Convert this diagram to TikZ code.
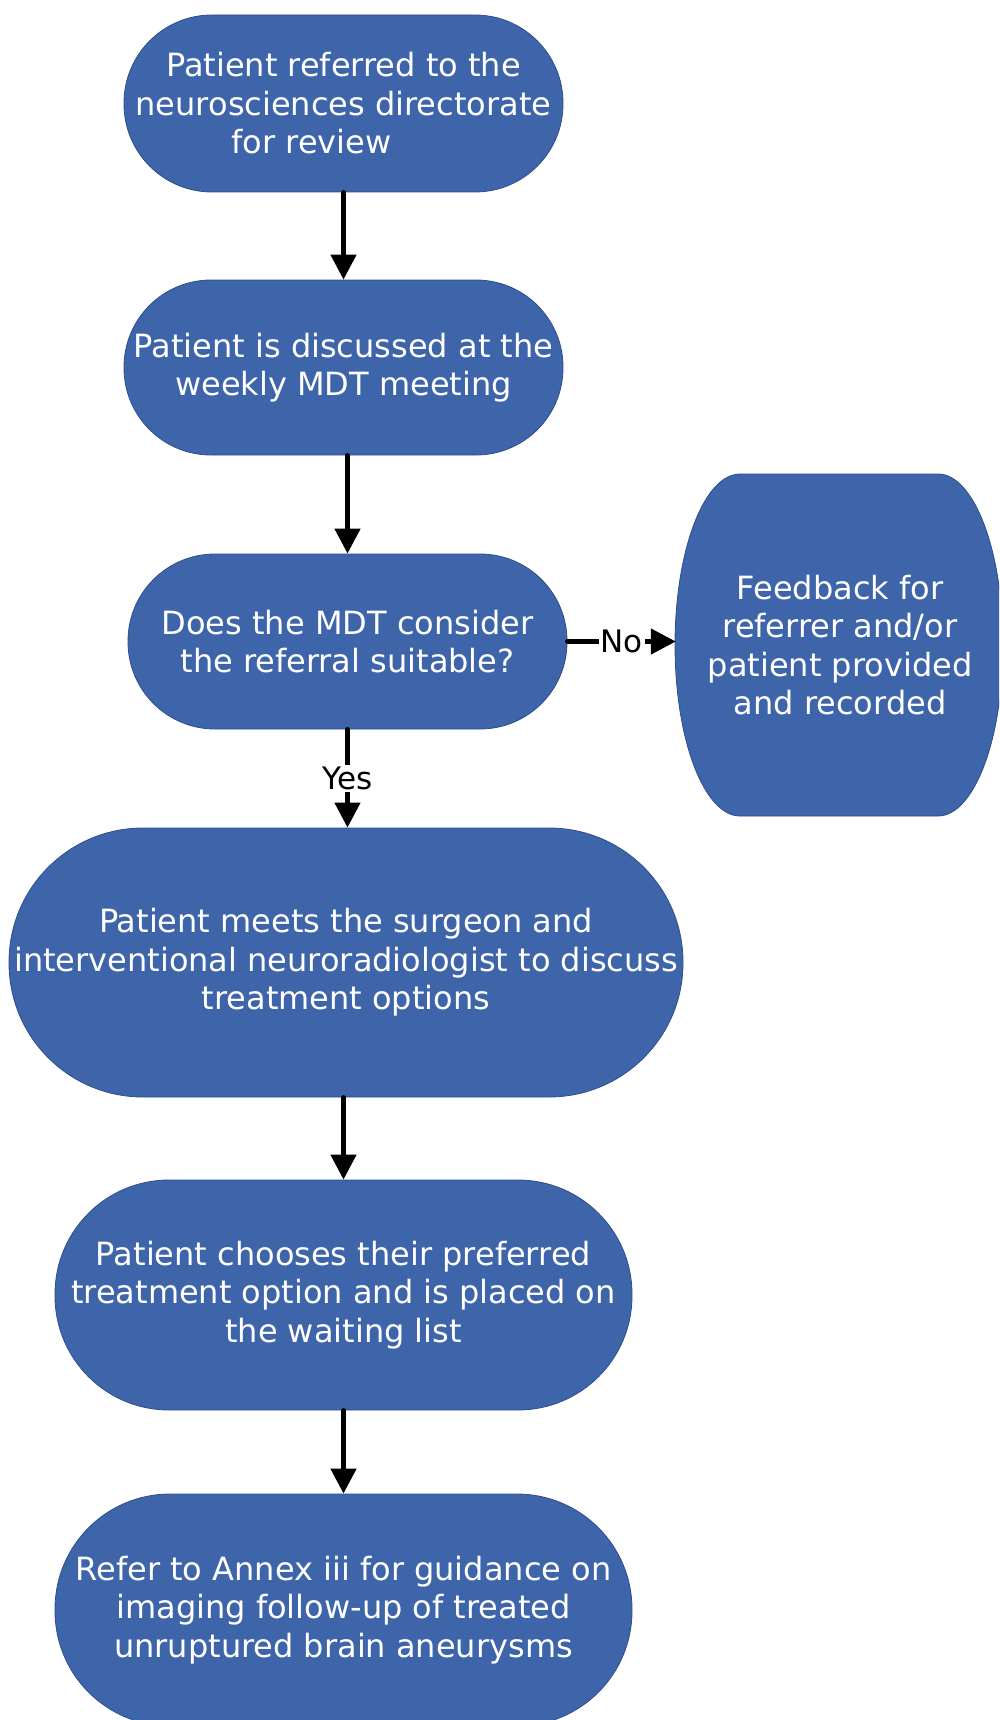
\documentclass[tikz,border=0pt]{standalone}
\usepackage{fontspec}
\setmainfont{DejaVu Sans}
\usetikzlibrary{arrows.meta}
\definecolor{boxfill}{RGB}{62,100,170}
\definecolor{boxline}{RGB}{45,78,140}
\tikzset{
  term/.style={draw=boxline, line width=0.8pt, fill=boxfill, text=white, align=center,
    inner sep=0pt, font=\fontsize{32pt}{38.5pt}\selectfont},
  conn/.style={line width=4.6pt, line cap=round, -{Triangle[width=25pt,length=25pt]}},
  lbl/.style={fill=white, text=black, inner sep=2pt, font=\fontsize{31pt}{36pt}\selectfont}
}
\begin{document}
\begin{tikzpicture}[x=1pt,y=-1pt]
\path[use as bounding box] (0,0) rectangle (999,1720);
\clip (0,0) rectangle (999,1720);

\node[term, minimum width=439pt, minimum height=177pt, rounded corners=88pt] (n1) at (343.5,103.5)
  {Patient referred to the\\neurosciences directorate\\\mbox{for review\kern64pt}};
\node[term, minimum width=439pt, minimum height=175pt, rounded corners=87pt] (n2) at (343.5,367.5)
  {Patient is discussed at the\\weekly MDT meeting};
\node[term, minimum width=439pt, minimum height=175pt, rounded corners=87pt] (n3) at (347.5,641.5)
  {Does the MDT consider\\the referral suitable?};
\node[term, minimum width=674pt, minimum height=269pt, rounded corners=134pt] (n4) at (346,962.5)
  {Patient meets the surgeon and\\interventional neuroradiologist to discuss\\treatment options};
\node[term, minimum width=577pt, minimum height=230pt, rounded corners=114pt] (n5) at (343.5,1295)
  {Patient chooses their preferred\\treatment option and is placed on\\the waiting list};
\node[term, minimum width=577pt, minimum height=232pt, rounded corners=115pt] (n6) at (343.5,1610)
  {Refer to Annex iii for guidance on\\imaging follow-up of treated\\unruptured brain aneurysms};

% feedback shape
\filldraw[fill=boxfill, draw=boxline, line width=0.8pt]
  (740,474) -- (938,474) arc[start angle=-90, end angle=90, x radius=65, y radius=171]
  -- (740,816) arc[start angle=90, end angle=270, x radius=65, y radius=171] -- cycle;
\node[text=white, align=center, inner sep=0pt, minimum width=328pt, minimum height=342pt,
  font=\fontsize{32pt}{38.3pt}\selectfont] (fb) at (840,645)
  {Feedback for\\referrer and/or\\patient provided\\and recorded};

\draw[conn] (n1) -- (n2);
\draw[conn] (n3.north |- n2.south) -- (n3.north);
\draw[conn] (n3.south) -- (n3.south |- n4.north) node[lbl, midway] {Yes};
\draw[conn] (n3.east) -- (n3.east -| fb.west) node[lbl, midway] {No};
\draw[conn] (n5.north |- n4.south) -- (n5.north);
\draw[conn] (n5) -- (n6);
\end{tikzpicture}
\end{document}
